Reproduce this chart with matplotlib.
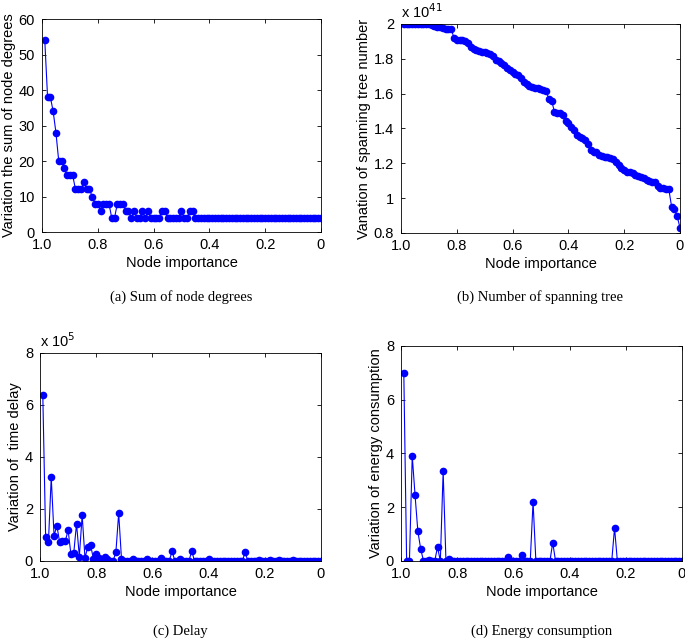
import matplotlib
matplotlib.use("Agg")
from matplotlib import pyplot as plt
import numpy as np

# node importance, 0.99 down to 0 (100 nodes)
importance = np.round(np.linspace(0.99, 0.0, 100), 2)

sum_degrees = [54, 38, 38, 34, 28, 20, 20, 18, 16, 16,
               16, 12, 12, 12, 14, 12, 12, 10, 8, 8,
               6, 8, 8, 8, 4, 4, 8, 8, 8, 6,
               6, 4, 6, 4, 4, 6, 4, 6, 4, 4,
               4, 4, 6, 6, 4, 4, 4, 4, 4, 6,
               4, 4, 6, 6] + [4] * 46

spanning_tree = [2.00, 2.00, 2.00, 2.00, 2.00, 2.00, 2.00, 2.00, 2.00, 2.00,
                 1.995, 1.99, 1.985, 1.98, 1.975, 1.97, 1.97, 1.97, 1.92, 1.91,
                 1.91, 1.91, 1.905, 1.89, 1.87, 1.855, 1.85, 1.845, 1.84, 1.84,
                 1.835, 1.83, 1.815, 1.795, 1.785, 1.775, 1.765, 1.75, 1.735, 1.725,
                 1.715, 1.705, 1.69, 1.665, 1.655, 1.645, 1.64, 1.635, 1.63, 1.625,
                 1.62, 1.615, 1.57, 1.56, 1.495, 1.49, 1.49, 1.48, 1.445, 1.43,
                 1.41, 1.39, 1.365, 1.35, 1.345, 1.335, 1.31, 1.275, 1.265, 1.265,
                 1.25, 1.24, 1.237, 1.235, 1.23, 1.225, 1.205, 1.19, 1.175, 1.16,
                 1.15, 1.15, 1.145, 1.13, 1.125, 1.12, 1.115, 1.105, 1.10, 1.095,
                 1.09, 1.07, 1.06, 1.06, 1.05, 1.05, 0.95, 0.935, 0.895, 0.83]

time_delay = [6.37, 0.93, 0.72, 3.22, 0.97, 1.36, 0.72, 0.75, 0.76, 1.19,
              0.26, 0.29, 1.44, 0.17, 1.76, 0.13, 0.53, 0.62, 0.08, 0.26,
              0.10, 0.04, 0.17, 0.08, 0.0, 0.0, 0.33, 1.84, 0.08, 0.0,
              0.0, 0.0, 0.07, 0.0, 0.0, 0.0, 0.0, 0.07, 0.0, 0.0,
              0.0, 0.0, 0.10, 0.0, 0.0, 0.0, 0.38, 0.0, 0.0, 0.07,
              0.0, 0.0, 0.0, 0.38, 0.0, 0.0, 0.0, 0.0, 0.0, 0.06,
              0.0, 0.0, 0.0, 0.0, 0.0, 0.0, 0.0, 0.0, 0.0, 0.0,
              0.0, 0.0, 0.33, 0.0, 0.0, 0.0, 0.0, 0.03, 0.0, 0.0,
              0.0, 0.03, 0.0, 0.0, 0.03, 0.0, 0.0, 0.0, 0.0, 0.03,
              0.0, 0.0, 0.0, 0.0, 0.0, 0.0, 0.0, 0.0, 0.0, 0.0]

energy = [0.0] * 100
energy_peaks = {1: 7.0, 4: 3.91, 5: 2.45, 6: 1.1, 7: 0.46, 10: 0.05, 13: 0.52,
                15: 3.34, 17: 0.09, 38: 0.15, 43: 0.24, 47: 2.2, 54: 0.68, 76: 1.23}
for k, v in energy_peaks.items():
    energy[k - 1] = v

x_ticks = [1.0, 0.8, 0.6, 0.4, 0.2, 0.0]
x_tick_labels = ['1.0', '0.8', '0.6', '0.4', '0.2', '0']

plt.rcParams['font.family'] = ['Liberation Sans', 'DejaVu Sans']
plt.rcParams['font.size'] = 10

fig = plt.figure(figsize=(6.85, 6.39), dpi=100)

panels = [
    # rect, data, ylim, yticks, yticklabels, ylabel, exponent, caption, caption y
    ([0.0613, 0.6369, 0.4073, 0.3333], sum_degrees, (0, 60), [0, 10, 20, 30, 40, 50, 60],
     None, 'Variation the sum of node degrees', None, '(a) Sum of node degrees', 0.535),
    ([0.5854, 0.6354, 0.4073, 0.3271], spanning_tree, (0.8, 2.0), [0.8, 1.0, 1.2, 1.4, 1.6, 1.8, 2.0],
     ['0.8', '1', '1.2', '1.4', '1.6', '1.8', '2'], 'Vanation of spanning tree number', '41',
     '(b) Number of spanning tree', 0.535),
    ([0.0584, 0.1221, 0.4102, 0.3255], time_delay, (0, 8), [0, 2, 4, 6, 8],
     None, 'Variation of  time delay', '5', '(c) Delay', 0.0125),
    ([0.5854, 0.1221, 0.4102, 0.3365], energy, (0, 8), [0, 2, 4, 6, 8],
     None, 'Variation of energy consumption', None, '(d) Energy consumption', 0.0125),
]

for rect, vals, ylim, yticks, ylabels, ylabel, expo, caption, cap_y in panels:
    ax = fig.add_axes(rect)
    ax.plot(importance, vals, color='blue', linewidth=0.8, marker='o',
            markersize=4.5, markerfacecolor='blue', markeredgecolor='blue')
    ax.set_xlim(1.0, 0.0)
    ax.set_ylim(*ylim)
    ax.set_xticks(x_ticks)
    ax.set_xticklabels(x_tick_labels)
    ax.set_yticks(yticks)
    if ylabels is not None:
        ax.set_yticklabels(ylabels)
    ax.tick_params(direction='in', top=True, right=True, length=3, width=0.6,
                   labelsize=10.5)
    ax.tick_params(axis='y', pad=5)
    ax.tick_params(axis='x', pad=4)
    for s in ax.spines.values():
        s.set_linewidth(0.6)
    ax.set_xlabel('Node importance', fontsize=10.5, labelpad=3)
    ax.set_ylabel(ylabel, fontsize=10.5, labelpad=2)
    if expo is not None:
        ax.text(0.0, 1.015, r'x 10$^{%s}$' % expo, transform=ax.transAxes,
                fontsize=10.5, ha='left', va='bottom')
    cx = rect[0] + rect[2] / 2
    fig.text(cx, cap_y, caption, ha='center', va='center', fontsize=10.5,
             family=['Liberation Serif', 'DejaVu Serif'])

fig.savefig('out.png', dpi=100)
